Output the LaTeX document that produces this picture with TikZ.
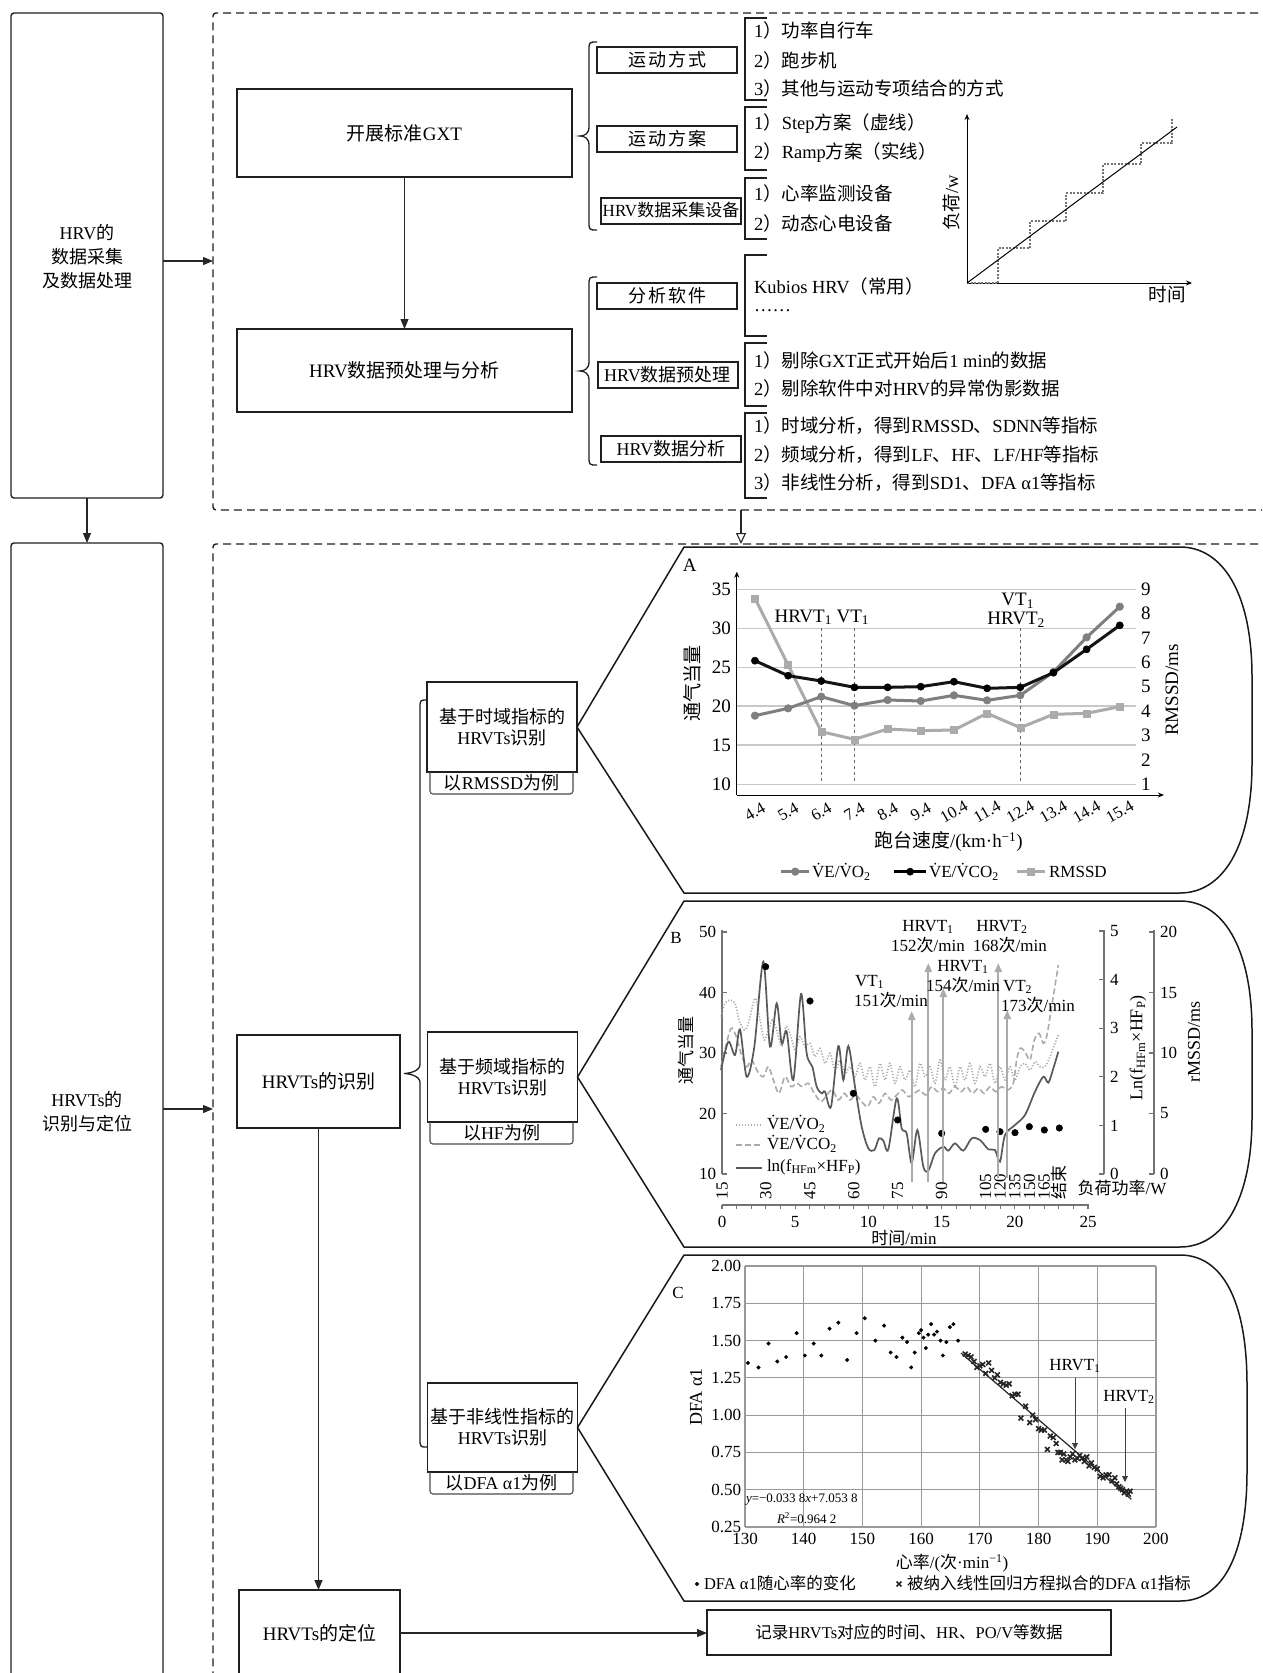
\documentclass[tikz,border=0pt]{standalone}
\usepackage{fontspec}
\setmainfont{Liberation Serif}
\newfontfamily\cjk{Noto Sans CJK SC}
\newcommand\zh[1]{{\cjk #1}}
\usetikzlibrary{arrows.meta,plotmarks}
\definecolor{gA}{HTML}{7F7F7F}
\definecolor{gB}{HTML}{ABABAB}
\definecolor{grd}{HTML}{C8C8C8}
\newcommand\fbig{\fontsize{19}{24}\selectfont}
\newcommand\fmid{\fontsize{18}{21}\selectfont}
\newcommand\fleft{\fontsize{18}{24}\selectfont}
\newcommand\fitem{\fontsize{18.5}{22}\selectfont}
\newcommand\fch{\fontsize{17}{18}\selectfont}
\newcommand\fchA{\fontsize{19}{22}\selectfont}
\newcommand\ftick{\fontsize{16.5}{19}\selectfont}
\newcommand\fsm{\fontsize{13}{15}\selectfont}
\newcommand\fleg{\fontsize{16.5}{19}\selectfont}
% curly brace: #1 tip x, #2 line x, #3 end x, #4 top y, #5 bottom y
\newcommand\curly[5]{%
  \pgfmathsetmacro\bmid{(#4+#5)/2}%
  \draw[brc] (#3,#4) .. controls (#2,#4) and (#2,#4) .. (#2,#4+9) -- (#2,\bmid-9)
    .. controls (#2,\bmid-2) and (#1+4,\bmid) .. (#1,\bmid)
    .. controls (#1+4,\bmid) and (#2,\bmid+2) .. (#2,\bmid+9) -- (#2,#5-9)
    .. controls (#2,#5) and (#2,#5) .. (#3,#5);}
\newcommand\lbrk[2]{\draw[brk] (767,#1) -- (745,#1) -- (745,#2) -- (767,#2);}
% panel: #1 vertex coord, #2 top y, #3 bottom y, #4 right x
\newcommand\panel[4]{%
  \draw[pnl] #1 -- (684,#2) -- (1180,#2) .. controls (1222,#2) and (#4,#2+45) .. (#4,#2+130)
   -- (#4,#3-130) .. controls (#4,#3-45) and (1222,#3) .. (1180,#3) -- (684,#3) -- cycle;}
\begin{document}
\begin{tikzpicture}[x=1pt,y=-1pt,
  every node/.style={inner sep=0pt,outer sep=0pt},
  lbox/.style={draw=black!88,line width=1.4pt,rounded corners=3pt},
  dbox/.style={draw=black!88,line width=1.4pt,dash pattern=on 8pt off 5pt,rounded corners=3pt},
  mbox/.style={draw=black!88,line width=1.4pt,font=\fbig},
  sbox/.style={draw=black!88,line width=2pt,minimum width=140pt,minimum height=26pt,font=\fmid},
  tbox/.style={draw=black!88,line width=1.8pt,minimum width=150pt,minimum height=90pt,align=center,font=\fmid},
  tab/.style={draw=black!70,line width=1.1pt,rounded corners=3pt},
  arr/.style={draw=black!85,line width=1.1pt,-{Triangle[length=10pt,width=8pt]}},
  brc/.style={draw=black!88,line width=1.3pt},
  brk/.style={draw=black!88,line width=1.5pt},
  item/.style={anchor=west,font=\fitem},
  pnl/.style={draw=black!90,line width=1.5pt,fill=white},
  gridA/.style={draw=grd,line width=1.6pt},
  garr/.style={draw=gB,line width=2.2pt,-{Triangle[length=9pt,width=7pt]}},
  baxis/.style={draw=black!55,line width=1.1pt},
  cgrid/.style={draw=black!40,line width=1.1pt},
]
\useasboundingbox (0,0) rectangle (1262,1673);
\fill[white] (0,0) rectangle (1262,1673);
\begin{scope}
\clip (0,0) rectangle (1262,1673);

% ===== left column =====
\node[lbox,minimum width=152pt,minimum height=485pt] (L1) at (87,255.5) {};
\node[align=center,font=\fleft] (L1t) at (87,257) {HRV\zh{的}\\\zh{数据采集}\\\zh{及数据处理}};
\node[lbox,minimum width=152pt,minimum height=1177pt] (L2) at (87,1131.5) {};
\node[align=center,font=\fleft] (L2t) at (87,1112) {HRVTs\zh{的}\\\zh{识别与定位}};

% ===== dashed regions =====
\node[dbox,minimum width=1087pt,minimum height=497pt] (D1) at (756.5,261.5) {};
\node[dbox,minimum width=1087pt,minimum height=1176pt] (D2) at (756.5,1132) {};

\coordinate (ya) at (0,261);
\coordinate (yb) at (0,1109);
\coordinate (xd) at (741,0);
\draw[arr] (L1.east |- ya) -- (D1.west |- ya);
\draw[arr] (L1.south) -- (L2.north);
\draw[arr] (L2.east |- yb) -- (D2.west |- yb);
\draw[draw=black!85,line width=1.1pt,-{Triangle[open,length=11pt,width=10pt]}] (xd |- D1.south) -- (xd |- D2.north);

% ===== upper part =====
\node[mbox,minimum width=335pt,minimum height=88pt] (GXT) at (404.5,133) {\zh{开展标准}GXT};
\node[mbox,minimum width=335pt,minimum height=83pt] (PRE) at (404.5,370.5) {HRV\zh{数据预处理与分析}};
\draw[arr] (GXT) -- (PRE);

\curly{580}{589}{597}{42}{230}
\curly{580}{589}{597}{277}{465}

\node[sbox] (S1) at (667,60) {\zh{运\hspace{2pt}动\hspace{2pt}方\hspace{2pt}式}};
\node[sbox] (S2) at (667,139) {\zh{运\hspace{2pt}动\hspace{2pt}方\hspace{2pt}案}};
\node[sbox,font=\fontsize{17}{20}\selectfont] (S3) at (671,210.5) {HRV\zh{数据采集设备}};
\node[sbox] (S4) at (667,296) {\zh{分\hspace{2pt}析\hspace{2pt}软\hspace{2pt}件}};
\node[sbox] (S5) at (667.5,374.5) {HRV\zh{数据预处理}};
\node[sbox] (S6) at (671,448.5) {HRV\zh{数据分析}};

\lbrk{18}{100}
\lbrk{107}{170}
\lbrk{178}{239}
\lbrk{255}{336}
\lbrk{343}{406}
\lbrk{413}{498}

\node[item] (i1) at (754,30) {1\zh{）功率自行车}};
\node[item] (i2) at (754,60) {2\zh{）跑步机}};
\node[item] (i3) at (754,88) {3\zh{）其他与运动专项结合的方式}};
\node[item] (i4) at (754,124) {1\zh{）}Step\zh{方案（虚线）}};
\node[item] (i5) at (754,153) {2\zh{）}Ramp\zh{方案（实线）}};
\node[item] (i6) at (754,193) {1\zh{）心率监测设备}};
\node[item] (i7) at (754,223) {2\zh{）动态心电设备}};
\node[item] (i8) at (754,286) {Kubios HRV\zh{（常用）}};
\node[item] (i9) at (754,311) {……};
\node[item] (i10) at (754,360) {1\zh{）剔除}GXT\zh{正式开始后}1 min\zh{的数据}};
\node[item] (i11) at (754,388) {2\zh{）剔除软件中对}HRV\zh{的异常伪影数据}};
\node[item] (i12) at (754,426) {1\zh{）时域分析，得到}RMSSD\zh{、}SDNN\zh{等指标}};
\node[item] (i13) at (754,455) {2\zh{）频域分析，得到}LF\zh{、}HF\zh{、}LF/HF\zh{等指标}};
\node[item] (i14) at (754,483) {3\zh{）非线性分析，得到}SD1\zh{、}DFA α1\zh{等指标}};

% small load graph
\draw[line width=1pt,-{Stealth[length=6pt,width=5pt]}] (967,283) -- (967,114);
\draw[line width=1pt,-{Stealth[length=6pt,width=5pt]}] (967,283) -- (1192,283);
\draw[draw=black!55,line width=1.1pt,dash pattern=on 2pt off 1.5pt] (967,283) -- (998,283) -- (998,248) -- (1030,248) -- (1030,221) -- (1066,221) -- (1066,193) -- (1103,193) -- (1103,164) -- (1141,164) -- (1141,143) -- (1172,143) -- (1172,118);
\draw[line width=1pt] (967,283) -- (1177,127);
\node[rotate=90,font=\fitem] (gy) at (951,203) {\zh{负荷}/w};
\node[font=\fitem] (gx) at (1167,295) {\zh{时间}};

% ===== lower part =====
\node[mbox,minimum width=163pt,minimum height=93pt] (REC) at (318.5,1081.5) {HRVTs\zh{的识别}};
\node[mbox,minimum width=161pt,minimum height=86pt] (LOC) at (319.5,1633) {HRVTs\zh{的定位}};
\node[mbox,minimum width=404pt,minimum height=45pt,font=\fontsize{16.5}{20}\selectfont] (REC2) at (909,1632.5) {\zh{记录}HRVTs\zh{对应的时间、}HR\zh{、}PO/V\zh{等数据}};
\draw[arr] (REC.south) -- (REC.south |- LOC.north);
\draw[arr] (LOC.east) -- (REC2.west |- LOC.east);

\curly{404}{420}{427}{700}{1447}

% panels
\node[tbox] (T1) at (502,727) {\zh{基于时域指标的}\\HRVTs\zh{识别}};
\node[tbox] (T2) at (502.5,1077) {\zh{基于频域指标的}\\HRVTs\zh{识别}};
\node[tbox,minimum height=89pt] (T3) at (502.5,1427.5) {\zh{基于非线性指标的}\\HRVTs\zh{识别}};
\draw[tab] (430,772) -- (430,794) -- (573,794) -- (573,772);
\node[font=\fmid] (tb1) at (501.5,783) {\zh{以}RMSSD\zh{为例}};
\draw[tab] (430,1122) -- (430,1144) -- (573,1144) -- (573,1122);
\node[font=\fmid] (tb2) at (501.5,1133) {\zh{以}HF\zh{为例}};
\draw[tab] (430,1472) -- (430,1494) -- (573,1494) -- (573,1472);
\node[font=\fmid] (tb3) at (501.5,1483) {\zh{以}DFA α1\zh{为例}};

\panel{(T1.east)}{547}{893}{1252}
\panel{(T2.east)}{901}{1247}{1252}
\panel{(T3.east)}{1255}{1601}{1247}

% ===== Chart A =====
\begin{scope}[shift={(630,540)},x=0.403pt,y=-0.33333pt]
\node[font=\fchA] (An) at (148,75) {A};
\foreach \yy in {148,265,382,498,615,733}{\draw[gridA] (265,\yy) -- (1255,\yy);}
\foreach \v/\yy in {35/148,30/265,25/382,20/498,15/615,10/733}{\node[anchor=east,font=\fchA] at (250,\yy) {\v};}
\foreach \v in {1,...,9}{\pgfmathsetmacro\yy{148+(9-\v)*73.125}\node[anchor=west,font=\fchA] at (1268,\yy) {\v};}
\draw[line width=1pt,-{Stealth[length=6pt,width=5pt]}] (265,765) -- (265,95);
\draw[line width=1pt,-{Stealth[length=6pt,width=5pt]}] (265,765) -- (1325,765);
\foreach \xx in {474.6,556.9,968.4}{\draw[dashed,draw=black!60,line width=1.1pt] (\xx,265) -- (\xx,728);}
\node[font=\fchA] at (430,232) {HRVT\textsubscript{1}};
\node[font=\fchA] at (553,232) {VT\textsubscript{1}};
\node[font=\fchA] at (962,182) {VT\textsubscript{1}};
\node[font=\fchA] at (958,240) {HRVT\textsubscript{2}};
\foreach \lab [count=\i from 0] in {4.4,5.4,6.4,7.4,8.4,9.4,10.4,11.4,12.4,13.4,14.4,15.4}{\pgfmathsetmacro\xx{310+82.3*\i}\node[rotate=30,font=\ftick] at (\xx,815) {\lab};}
\node[font=\fchA] at (790,905) {\zh{跑台速度}/(km·h\textsuperscript{−1})};
\node[rotate=90,font=\fchA] at (155,430) {\zh{通气当量}};
\node[rotate=90,font=\fchA] at (1345,450) {RMSSD/ms};
\draw[draw=gB,line width=3pt,line join=round] plot[mark=square*,mark size=3.5pt,mark options={fill=gB,draw=gB,line width=0.5pt}] coordinates {(310,175) (392.3,375) (474.6,575) (556.9,598) (639.2,567) (721.5,572) (803.8,570) (886.1,520) (968.4,563) (1050.7,523) (1133,520) (1215.3,500)};
\draw[draw=gA,line width=3pt,line join=round] plot[mark=*,mark size=3.8pt,mark options={fill=gA,draw=gA,line width=0.5pt}] coordinates {(310,527) (392.3,505) (474.6,470) (556.9,497) (639.2,480) (721.5,483) (803.8,466) (886.1,481) (968.4,466) (1050.7,396) (1133,292) (1215.3,200)};
\draw[draw=black!92,line width=3pt,line join=round] plot[mark=*,mark size=3.6pt,mark options={fill=black,draw=black,line width=0.5pt}] coordinates {(310,362) (392.3,407) (474.6,423) (556.9,442) (639.2,442) (721.5,440) (803.8,425) (886.1,445) (968.4,442) (1050.7,398) (1133,328) (1215.3,256)};
% legend
\draw[draw=gA,line width=3pt] plot[mark=*,mark indices={2},mark size=3.8pt,mark options={fill=gA,draw=gA,line width=0.5pt}] coordinates {(375,995) (410,995) (445,995)};
\node[anchor=west,font=\fch] at (452,995) {\.VE/\.VO\textsubscript{2}};
\draw[draw=black,line width=3pt] plot[mark=*,mark indices={2},mark size=3.6pt,mark options={fill=black,line width=0.5pt}] coordinates {(655,995) (695,995) (735,995)};
\node[anchor=west,font=\fch] at (742,995) {\.VE/\.VCO\textsubscript{2}};
\draw[draw=gB,line width=3pt] plot[mark=square*,mark indices={2},mark size=3.5pt,mark options={fill=gB,draw=gB,line width=0.5pt}] coordinates {(960,995) (995,995) (1030,995)};
\node[anchor=west,font=\fch] at (1040,995) {RMSSD};
\end{scope}

% ===== Chart B =====
\node[font=\fch] (Bn) at (676,938) {B};
\draw[baxis] (722,930) -- (722,1174);
\foreach \v/\yy in {50/932,40/992.5,30/1053,20/1113.5,10/1174}{\draw[baxis] (722,\yy) -- (727,\yy); \node[anchor=east,font=\fch] at (716,\yy) {\v};}
\draw[baxis] (1104,930) -- (1104,1174);
\foreach \v in {0,...,5}{\pgfmathsetmacro\yy{1174-\v*48.6}\draw[baxis] (1099,\yy) -- (1104,\yy); \node[anchor=west,font=\fch] at (1110,\yy) {\v};}
\draw[baxis] (1154,930) -- (1154,1174);
\foreach \v/\yy in {20/932,15/992.5,10/1053,5/1113.5,0/1174}{\draw[baxis] (1149,\yy) -- (1154,\yy); \node[anchor=west,font=\fch] at (1160,\yy) {\v};}
\node[rotate=90,font=\fch] at (686,1050) {\zh{通气当量}};
\node[rotate=90,font=\fontsize{18}{20}\selectfont] at (1138,1048) {Ln(f\textsubscript{HFm}×HF\textsubscript{P})};
\node[rotate=90,font=\fontsize{18}{20}\selectfont] at (1194,1042) {rMSSD/ms};
\foreach \lab/\t in {15/0,30/3,45/6,60/9,75/12,90/15,105/18,120/19,135/20,150/21,165/22}{\pgfmathsetmacro\xx{722+14.64*\t}\node[rotate=90,anchor=west,font=\fch] at (\xx,1199) {\lab};}
\node[rotate=90,anchor=west,font=\fch] at (1058.7,1199) {\zh{结束}};
\node[font=\fch] at (1122,1188) {\zh{负荷功率}/W};
\draw[baxis] (722,1205) -- (1089,1205);
\foreach \t in {0,...,25}{\pgfmathsetmacro\xx{722+14.64*\t}\draw[baxis] (\xx,1205) -- (\xx,1209);}
\foreach \t in {0,5,10,15,20,25}{\pgfmathsetmacro\xx{722+14.64*\t}\node[font=\fch] at (\xx,1222) {\t};}
\node[font=\fch] at (904,1238) {\zh{时间}/min};
\begin{scope}[shift={(715,920)},x=0.33333pt,y=-0.33333pt]
\draw[draw=gB,line width=1.6pt,dash pattern=on 1.2pt off 1.8pt] plot[smooth,tension=0.5] coordinates {(18,290) (30,250) (45,240) (60,250) (72,300) (88,330) (100,310) (112,260) (122,235) (135,300) (148,360) (160,330) (172,300) (185,330) (200,380) (212,320) (225,340) (240,390) (255,350) (270,380) (285,370) (300,410) (315,385) (330,430) (345,400) (360,450) (375,420) (390,460) (405,440) (420,470) (435,430) (450,480) (465,440) (480,500) (495,430) (510,480) (525,430) (540,490) (555,440) (570,480) (585,450) (600,500) (615,430) (630,470) (645,440) (660,490) (675,420) (690,480) (705,440) (720,500) (735,440) (750,480) (765,430) (780,490) (795,440) (810,470) (825,430) (840,490) (855,440) (870,480) (885,440) (900,480) (915,440) (930,430) (945,450) (960,425) (975,440) (990,440) (1005,410) (1020,370) (1030,345)};
\draw[draw=gB,line width=1.6pt,dash pattern=on 6pt off 3pt] plot[smooth,tension=0.5] coordinates {(18,440) (32,380) (48,325) (62,345) (78,400) (95,440) (110,420) (128,455) (145,470) (160,440) (175,480) (192,520) (210,470) (228,500) (245,490) (262,500) (280,490) (298,520) (318,545) (335,525) (352,510) (370,540) (388,520) (405,540) (422,525) (440,545) (458,560) (475,530) (492,550) (510,520) (528,540) (545,525) (562,510) (580,530) (598,520) (615,510) (632,525) (650,500) (668,515) (685,505) (702,520) (720,500) (738,515) (755,500) (772,520) (790,505) (808,520) (825,500) (842,515) (860,500) (878,510) (895,490) (905,420) (915,385) (930,395) (945,420) (958,360) (972,340) (985,370) (995,350) (1010,260) (1030,135)};
\draw[draw=black!65,line width=1.7pt] plot[smooth,tension=0.5] coordinates {(18,450) (40,365) (60,405) (75,328) (95,470) (118,380) (145,125) (165,380) (185,250) (200,370) (215,335) (235,480) (258,222) (275,400) (292,440) (305,500) (320,520) (330,515) (348,560) (370,378) (385,480) (400,378) (420,500) (440,620) (460,685) (478,690) (492,655) (505,662) (520,688) (545,535) (560,625) (575,640) (590,730) (607,630) (625,740) (640,752) (660,700) (685,680) (700,692) (720,670) (745,692) (770,655) (795,660) (820,688) (840,690) (855,725) (870,645) (900,615) (930,585) (960,515) (985,470) (1000,488) (1015,445) (1030,395)};
\draw plot[only marks,mark=*,mark size=3.3pt,mark options={fill=black}] coordinates {(152,140) (285,243) (415,520) (548,600) (680,640) (812,628) (855,635) (900,638) (943,620) (988,630) (1033,624)};
\end{scope}
\draw[garr] (911.7,1182) -- (911.7,1011);
\draw[garr] (928.3,1182) -- (928.3,963);
\draw[garr] (943.3,1182) -- (943.3,988);
\draw[garr] (998.3,1178) -- (998.3,963);
\draw[garr] (1007.3,1178) -- (1007.3,1010);
\node[font=\fch] at (928,927) {HRVT\textsubscript{1}};
\node[font=\fch] at (928,945) {152\zh{次}/min};
\node[font=\fch] at (1002,927) {HRVT\textsubscript{2}};
\node[font=\fch] at (1010,945) {168\zh{次}/min};
\node[font=\fch] at (963,967) {HRVT\textsubscript{1}};
\node[font=\fch] at (963,985) {154\zh{次}/min};
\node[anchor=west,font=\fch] at (855,982) {VT\textsubscript{1}};
\node[font=\fch] at (891,1000) {151\zh{次}/min};
\node[anchor=west,font=\fch] at (1003,987) {VT\textsubscript{2}};
\node[font=\fch] at (1038,1005) {173\zh{次}/min};
\draw[draw=gB,line width=1.6pt,dash pattern=on 1.2pt off 1.8pt] (736,1125) -- (762,1125);
\node[anchor=west,font=\fch] at (767,1124) {\.VE/\.VO\textsubscript{2}};
\draw[draw=gB,line width=1.6pt,dash pattern=on 6pt off 3pt] (736,1145) -- (762,1145);
\node[anchor=west,font=\fch] at (767,1144) {\.VE/\.VCO\textsubscript{2}};
\draw[draw=black!65,line width=1.7pt] (736,1168) -- (762,1168);
\node[anchor=west,font=\fch] at (767,1167) {ln(f\textsubscript{HFm}×HF\textsubscript{P})};

% ===== Chart C =====
\node[font=\fch] (Cn) at (678,1293) {C};
\begin{scope}[shift={(-18.23,1564.28)},x=5.871pt,y=149.14pt]
\foreach \h in {130,140,...,200}{\draw[cgrid] (\h,0.25) -- (\h,2);}
\foreach \d/\lab in {0.25/0.25,0.5/0.50,0.75/0.75,1/1.00,1.25/1.25,1.5/1.50,1.75/1.75,2/2.00}{\draw[cgrid] (130,\d) -- (200,\d); \node[anchor=east,font=\fch] at ([xshift=-4pt]130,\d) {\lab};}
\foreach \h in {130,140,...,200}{\node[anchor=north,font=\fch] at ([yshift=-6pt]\h,0.25) {\h};}
\draw plot[only marks,mark=*,mark size=1.8pt,mark options={fill=black}] coordinates {(130.5,1.35) (132.3,1.32) (134,1.48) (135.5,1.36) (137,1.39) (138.8,1.55) (140.2,1.40) (141.7,1.48) (143,1.40) (144.4,1.58) (145.9,1.62) (147.4,1.37) (149,1.55) (150.4,1.65) (152.2,1.50) (153.7,1.60) (154.8,1.42) (155.8,1.39) (156.8,1.52) (157.6,1.49) (158.3,1.32) (158.9,1.42) (159.6,1.55) (160,1.57) (160.4,1.52) (160.8,1.45) (161.2,1.54) (161.7,1.61) (162.2,1.54) (162.7,1.56) (163.3,1.50) (163.7,1.40) (164.3,1.49) (164.9,1.59) (165.5,1.61) (166.3,1.50)};
\draw[line width=1.2pt,draw=black!85] (166.8,1.416) -- (195.8,0.436);
\draw plot[only marks,mark=x,mark size=3.4pt,mark options={draw=black!85,line width=1.6pt}] coordinates {(167.5,1.41) (168,1.40) (168.5,1.39) (169,1.36) (169.5,1.32) (170,1.33) (170.5,1.34) (171,1.28) (171.5,1.35) (172,1.30) (172.5,1.25) (173,1.27) (173.5,1.22) (174,1.21) (174.5,1.20) (175,1.21) (175.5,1.13) (176,1.14) (176.5,1.14) (177,0.98) (177.8,1.06) (178.5,0.95) (179,1.00) (179.5,0.97) (180,0.91) (180.5,0.90) (181,0.90) (181.5,0.77) (182,0.86) (182.5,0.85) (183,0.81) (183.3,0.75) (183.7,0.75) (184,0.70) (184.3,0.74) (184.7,0.70) (185,0.69) (185.4,0.72) (185.8,0.74) (186.2,0.70) (186.6,0.71) (187,0.73) (187.4,0.71) (187.8,0.69) (188.2,0.72) (188.6,0.66) (189,0.68) (189.5,0.65) (190,0.64) (190.5,0.59) (191,0.58) (191.5,0.60) (192,0.60) (192.5,0.56) (193,0.58) (193.3,0.54) (193.7,0.52) (194,0.51) (194.3,0.50) (194.6,0.48) (195,0.49) (195.3,0.47) (195.6,0.49)};
\end{scope}
\draw[draw=black!75,line width=0.9pt,-{Triangle[length=6pt,width=6pt]}] (1075,1378) -- (1075,1449);
\draw[draw=black!75,line width=0.9pt,-{Triangle[length=6pt,width=6pt]}] (1125,1408) -- (1125,1482);
\node[font=\fch] at (1075,1366) {HRVT\textsubscript{1}};
\node[font=\fch] at (1129,1397) {HRVT\textsubscript{2}};
\node[anchor=west,font=\fsm] at (746,1500) {\textit{y}=−0.033 8\textit{x}+7.053 8};
\node[anchor=west,font=\fsm] at (777,1518) {\textit{R}\textsuperscript{2}=0.964 2};
\node[rotate=90,font=\fontsize{18}{20}\selectfont] at (696,1397) {DFA α1};
\node[font=\fch] at (952,1563) {\zh{心率}/(\zh{次}·min\textsuperscript{−1})};
\draw plot[only marks,mark=*,mark size=1.8pt] coordinates {(697,1584)};
\node[anchor=west,font=\fleg] at (704,1583) {DFA α1\zh{随心率的变化}};
\draw plot[only marks,mark=x,mark size=3.4pt,mark options={line width=1.6pt,draw=black!85}] coordinates {(899,1584)};
\node[anchor=west,font=\fleg] at (907,1583) {\zh{被纳入线性回归方程拟合的}DFA α1\zh{指标}};

\end{scope}
\end{tikzpicture}
\end{document}
